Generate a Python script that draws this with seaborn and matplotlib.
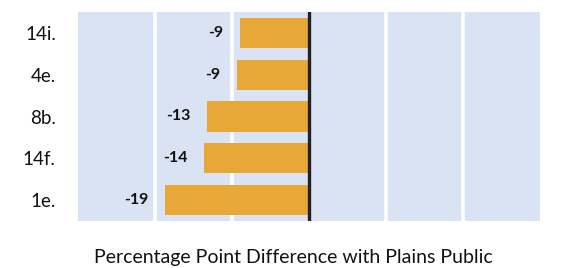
import matplotlib
matplotlib.use("Agg")
import matplotlib.pyplot as plt
import seaborn as sns
import pandas as pd

categories = ["14i.", "4e.", "8b.", "14f.", "1e."]
values = [-9.0, -9.4, -13.2, -13.6, -18.7]
value_labels = ["-9", "-9", "-13", "-14", "-19"]
x_label = "Percentage Point Difference with Plains Public"

sns.set_theme(style="white")
plt.rcParams['font.family'] = ['Lato', 'DejaVu Sans']

df = pd.DataFrame({"item": categories, "diff": values})

fig = plt.figure(figsize=(5.66, 2.68), dpi=100)
ax = fig.add_axes([78/566, 47/268, 462/566, 209/268])
ax.set_facecolor("#D9E3F3")

sns.barplot(data=df, x="diff", y="item", orient="h", color="#E8A838",
            width=0.72, saturation=1, ax=ax, zorder=3, linewidth=0,
            edgecolor="none")

ax.set_xlim(-30, 30)
for gx in [-20, -10, 10, 20]:
    ax.axvline(gx, color="white", lw=2.6, zorder=1)
ax.axvline(0, color="#222222", lw=2.4, zorder=4)

for i, (v, lab) in enumerate(zip(values, value_labels)):
    ax.annotate(lab, (v, i), xytext=(-12, 0), textcoords="offset points",
                ha="right", va="center", fontsize=11.5, fontweight="bold",
                color="#111111")

ax.set_xticks([])
ax.set_xlabel("")
ax.set_ylabel("")
ax.tick_params(axis="y", length=0, pad=16, labelsize=13.5, labelcolor="#111111")
for s in ax.spines.values():
    s.set_visible(False)

fig.text(293/566, 1 - 257/268, x_label, ha="center", va="center",
         fontsize=14, color="#111111")

fig.savefig("out.png", dpi=100)
